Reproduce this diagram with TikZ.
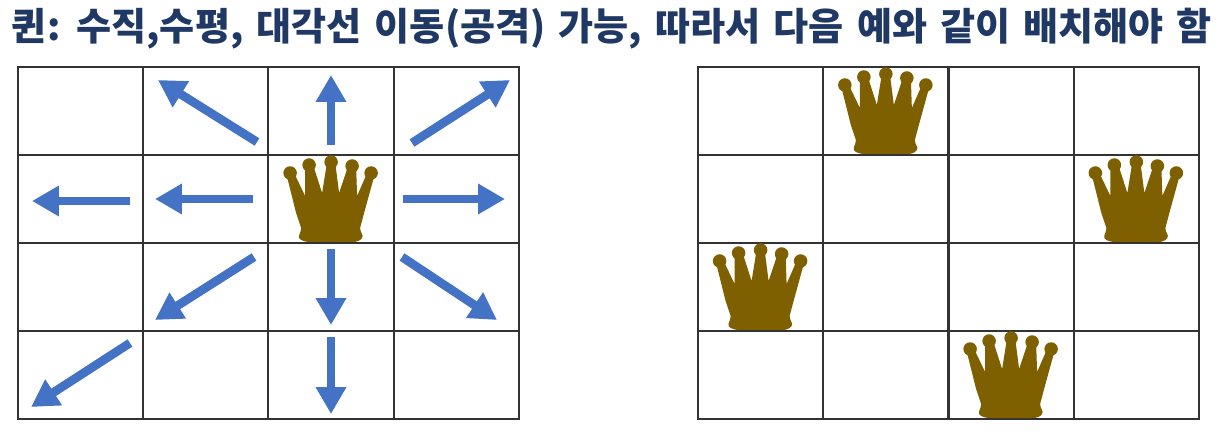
\documentclass[tikz,border=0pt]{standalone}
\usepackage{fontspec}
\newfontfamily\kofont[WordSpace=1.5]{Noto Sans CJK KR}
\usetikzlibrary{arrows.meta}
\definecolor{titleblue}{HTML}{1F3864}
\definecolor{arrowblue}{HTML}{4472C4}
\definecolor{crownbrown}{HTML}{7F6000}
\tikzset{
  cellbox/.style={
    draw=black!80,
    line width=0.04cm,
    minimum width=2.505cm,
    minimum height=1.76cm,
    inner sep=0,
    outer sep=0,
  },
  movearrow/.style={
    draw=arrowblue,
    line width=0.175cm,
    -{Triangle[length=0.54cm,width=0.58cm]},
  },
  queencrown/.pic={
    \fill[crownbrown] (-45,-26) -- (-37,-26) -- (-26,-3) -- (-26,-34) -- (-18,-34)
      -- (-9,-6) -- (-4,-37) -- (4,-37) -- (8,-6) -- (17,-33) -- (25,-33)
      -- (26,-3) -- (36,-26) -- (44,-26) -- (33,14) -- (29,29)
      .. controls (29,34) and (33,36) .. (31,39)
      .. controls (29,42) and (25,43) .. (22,43) -- (-21,43)
      .. controls (-25,43) and (-30,42) .. (-32,39)
      .. controls (-33,36) and (-30,34) .. (-30,29)
      -- (-35,14) -- cycle;
    \foreach \bx/\by in {-41/-26,-22/-34,0/-37,21/-33,40/-26}
    {
      \fill[crownbrown] (\bx,\by) circle (0.135cm);
    }
  },
}

\begin{document}
\begin{tikzpicture}[x=0.02cm,y=-0.02cm]
  \useasboundingbox (0,0) rectangle (1226,438);
  \node[font=\kofont\bfseries\fontsize{21.7pt}{24pt}\selectfont,text=titleblue,inner sep=0]
    (title) at (612,29) {퀸: 수직,수평, 대각선 이동(공격) 가능, 따라서 다음 예와 같이 배치해야 함};
  % the two boards
  \foreach \board/\xstart in {left/80.6,right/760.6}
  {
    \foreach \r in {0,...,3}
    {
      \foreach \c in {0,...,3}
      {
        \node[cellbox] (\board\r\c) at ({\xstart+125.25*\c},{111+88*\r}) {};
      }
    }
  }
  % crowns
  \foreach \cell in {left12,right01,right13,right20,right32}
  {
    \pic at (\cell) {queencrown};
  }
  % moves of the queen
  \foreach \i/\xa/\ya/\xb/\yb in {
    0/257/142/158/80,
    1/331/145/331/75,
    2/412/143/510/80,
    3/130/201/32/201,
    4/253/199/155/199,
    5/403/199/505/199,
    6/254/257/155/320,
    7/331/249/331/325,
    8/402/257/497/320,
    9/331/337/331/414,
    10/130/343/31/407}
  {
    \coordinate (from\i) at (\xa,\ya);
    \coordinate (to\i) at (\xb,\yb);
    \draw[movearrow] (from\i) -- (to\i);
  }
\end{tikzpicture}
\end{document}
